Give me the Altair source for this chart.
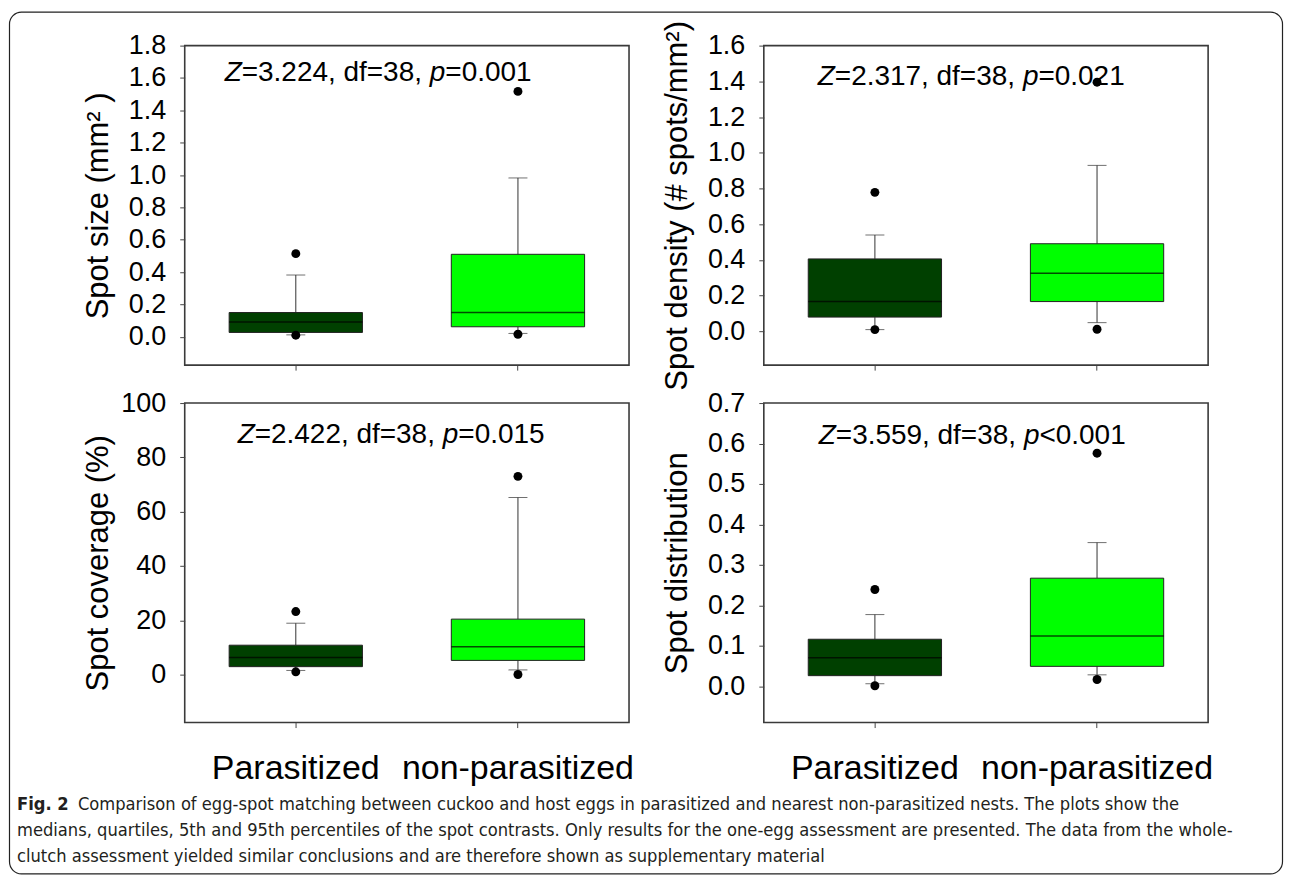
import altair as alt
import pandas as pd

groups = ["Parasitized", "non-parasitized"]
box_colors = ["#004000", "#00ff00"]

# Spot size (mm2)
size_p5 = [0.012, 0.021]
size_q1 = [0.027, 0.062]
size_med = [0.092, 0.150]
size_q3 = [0.150, 0.510]
size_p95 = [0.382, 0.982]
size_out_lo = [0.010, 0.016]
size_out_hi = [0.514, 1.517]

# Spot density (# spots/mm2)
dens_p5 = [0.009, 0.048]
dens_q1 = [0.079, 0.166]
dens_med = [0.166, 0.325]
dens_q3 = [0.405, 0.490]
dens_p95 = [0.539, 0.929]
dens_out_lo = [0.009, 0.011]
dens_out_hi = [0.778, 1.395]

# Spot coverage (%)
cov_p5 = [1.5, 1.7]
cov_q1 = [2.9, 5.2]
cov_med = [6.3, 10.2]
cov_q3 = [10.8, 20.4]
cov_p95 = [18.9, 65.2]
cov_out_lo = [1.0, 0.0]
cov_out_hi = [23.2, 73.0]

# Spot distribution
dist_p5 = [0.006, 0.028]
dist_q1 = [0.026, 0.049]
dist_med = [0.070, 0.124]
dist_q3 = [0.116, 0.267]
dist_p95 = [0.177, 0.355]
dist_out_lo = [0.001, 0.0165]
dist_out_hi = [0.239, 0.576]

titles = ["Spot size (mm² )", "Spot density (# spots/mm²)", "Spot coverage (%)", "Spot distribution"]
z_values = ["3.224", "2.317", "2.422", "3.559"]
p_values = ["=0.001", "=0.021", "=0.015", "<0.001"]
df_text = "38"

size_ticks = [0.0, 0.2, 0.4, 0.6, 0.8, 1.0, 1.2, 1.4, 1.6, 1.8]
dens_ticks = [0.0, 0.2, 0.4, 0.6, 0.8, 1.0, 1.2, 1.4, 1.6]
cov_ticks = [0, 20, 40, 60, 80, 100]
dist_ticks = [0.0, 0.1, 0.2, 0.3, 0.4, 0.5, 0.6, 0.7]

caption_bold = "Fig. 2"
caption_lines = [
    "Comparison of egg-spot matching between cuckoo and host eggs in parasitized and nearest non-parasitized nests. The plots show the",
    "medians, quartiles, 5th and 95th percentiles of the spot contrasts. Only results for the one-egg assessment are presented. The data from the whole-",
    "clutch assessment yielded similar conclusions and are therefore shown as supplementary material",
]

FONT = "Liberation Sans, Arial, sans-serif"
CAP_FONT = "Liberation Sans Narrow, DejaVu Sans Condensed, Roboto Condensed, Liberation Sans, sans-serif"
W, H = 445, 320
ANN_FS = 28
CAP_FS = 18.2

ARIAL_W = {"Z": 0.611, "=": 0.584, "<": 0.584, ".": 0.278, ",": 0.278, " ": 0.278,
           "d": 0.556, "f": 0.278, "p": 0.556}


def tw(s, fs):
    return sum(ARIAL_W.get(c, 0.556) for c in s) * fs


def panel(i, p5, q1, med, q3, p95, olo, ohi, domain, ticks, fmt, bottom, ann_xy):
    df = pd.DataFrame({"group": groups, "p5": p5, "q1": q1, "med": med, "q3": q3,
                       "p95": p95, "olo": olo, "ohi": ohi})
    if bottom:
        xaxis = alt.Axis(title=None, labelAngle=0, labelFontSize=34, labelPadding=24,
                         labelLimit=0, labelColor="black", tickSize=5, tickColor="#444")
    else:
        xaxis = alt.Axis(title=None, labels=False, tickSize=5, tickColor="#444")
    x = alt.X("group:N", sort=groups, axis=xaxis,
              scale=alt.Scale(paddingInner=0.4, paddingOuter=0.2))
    ysc = alt.Scale(domain=domain, nice=False, zero=False)
    yax = alt.Axis(values=ticks, format=fmt, title=titles[i], titleX=-70)

    def Y(f):
        return alt.Y(f + ":Q", scale=ysc, axis=yax)

    base = alt.Chart(df).encode(x=x)
    wu = base.mark_rule(color="#333", strokeWidth=1).encode(y=Y("q3"), y2="p95:Q")
    wd = base.mark_rule(color="#333", strokeWidth=1).encode(y=Y("p5"), y2="q1:Q")
    box = base.mark_bar(stroke="#222", strokeWidth=1).encode(
        y=Y("q1"), y2="q3:Q",
        color=alt.Color("group:N", scale=alt.Scale(domain=groups, range=box_colors), legend=None))
    md = base.mark_tick(color="black", size=W * 0.3, thickness=1.5).encode(y=Y("med"))
    ch = base.mark_tick(color="#333", size=19, thickness=1).encode(y=Y("p95"))
    cl = base.mark_tick(color="#333", size=19, thickness=1).encode(y=Y("p5"))
    ph = base.mark_circle(color="black", size=80, opacity=1).encode(y=Y("ohi"))
    pl = base.mark_circle(color="black", size=80, opacity=1).encode(y=Y("olo"))

    pieces = [("Z", True), ("=" + z_values[i] + ", df=" + df_text + ", ", False),
              ("p", True), (p_values[i], False)]
    texts = []
    cx = ann_xy[0]
    for s, it in pieces:
        texts.append(
            alt.Chart(pd.DataFrame({"t": [s]})).mark_text(
                align="left", baseline="alphabetic", font=FONT, fontSize=ANN_FS,
                fontStyle="italic" if it else "normal", color="black"
            ).encode(text="t:N", x=alt.value(cx), y=alt.value(ann_xy[1]))
        )
        cx += tw(s, ANN_FS)
    return alt.layer(wu, wd, box, md, ch, cl, pl, ph, *texts).properties(
        width=W, height=H, view=alt.ViewBackground(stroke="#3a3a3a", strokeWidth=1.6))


p1 = panel(0, size_p5, size_q1, size_med, size_q3, size_p95, size_out_lo, size_out_hi,
           [-0.175, 1.8], size_ticks, ".1f", False, (40, 35))
p2 = panel(1, dens_p5, dens_q1, dens_med, dens_q3, dens_p95, dens_out_lo, dens_out_hi,
           [-0.19, 1.6], dens_ticks, ".1f", False, (54, 39))
p3 = panel(2, cov_p5, cov_q1, cov_med, cov_q3, cov_p95, cov_out_lo, cov_out_hi,
           [-17.7, 100], cov_ticks, "d", True, (53, 40))
p4 = panel(3, dist_p5, dist_q1, dist_med, dist_q3, dist_p95, dist_out_lo, dist_out_hi,
           [-0.09, 0.7], dist_ticks, ".1f", True, (55, 41))

one = pd.DataFrame({"t": [""]})
border = alt.Chart(one).mark_rect(cornerRadius=12, fillOpacity=0, stroke="#222",
                                  strokeWidth=1.2).encode(
    x=alt.value(-175.5), x2=alt.value(1099.5), y=alt.value(-749.5), y2=alt.value(113.5))
cap_layers = [border]
cap_layers.append(alt.Chart(pd.DataFrame({"t": [caption_bold]})).mark_text(
    align="left", baseline="alphabetic", font=CAP_FONT, fontSize=CAP_FS, fontWeight="bold",
    color="#231f20").encode(text="t:N", x=alt.value(-168), y=alt.value(49.5)))
cap_x = [-107, -168, -168]
cap_y = [49.5, 75.5, 101.5]
for k, line in enumerate(caption_lines):
    cap_layers.append(alt.Chart(pd.DataFrame({"t": [line]})).mark_text(
        align="left", baseline="alphabetic", font=CAP_FONT, fontSize=CAP_FS,
        color="#231f20").encode(text="t:N", x=alt.value(cap_x[k]), y=alt.value(cap_y[k])))
caption = alt.layer(*cap_layers).properties(
    width=W, height=100, view=alt.ViewBackground(strokeWidth=0))

chart = alt.concat(
    p1, p2, p3, p4, caption,
    columns=2, spacing={"row": 38, "column": 135}, bounds="flush",
).properties(
    padding={"left": 0, "top": 2, "right": 0, "bottom": 0},
    background="white",
).configure_view(strokeWidth=0).configure_axis(
    labelFont=FONT, titleFont=FONT, labelFontSize=27, titleFontSize=31,
    titleFontWeight="normal", labelColor="black", titleColor="black",
    tickColor="#444", tickSize=5, labelPadding=14, domain=False, grid=False,
)

chart.save("out.html", embed_options={"renderer": "svg", "actions": False})
